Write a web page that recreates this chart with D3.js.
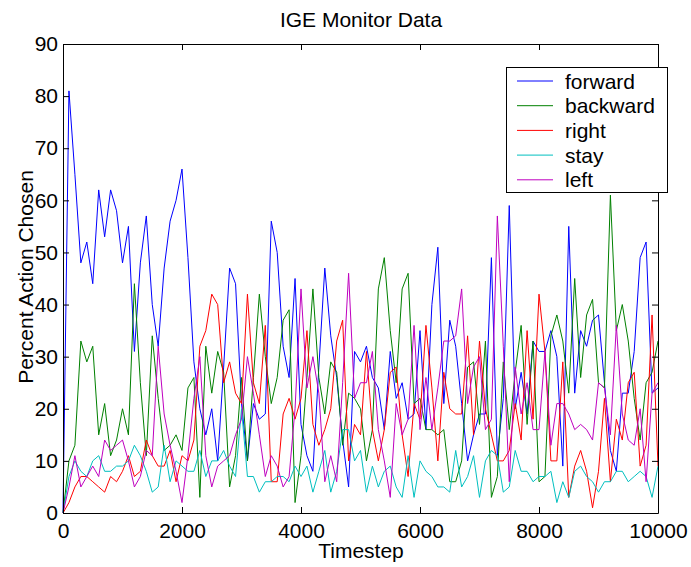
<!DOCTYPE html>
<html>
<head>
<meta charset="utf-8">
<script src="https://cdn.jsdelivr.net/npm/d3@7"></script>
<style>
  html, body { margin: 0; padding: 0; background: #fff; }
  text { font-family: "Liberation Sans", Arial, Helvetica, sans-serif; fill: #000; }
</style>
</head>
<body>
<svg id="chart" width="691" height="567"></svg>
<script>
// Timesteps 0..10000 every 100
const timesteps = d3.range(0, 10001, 100);

const forward = [
  0,81,65,48,52,44,62,53,62,58,
  48,55,31,48,57,40,32,47,56,60,
  66,49,29,20,15,20,10,28,47,44,
  21,10,21,18,19,56,50,32,26,45,
  17,11,8,28,47,34,26,14,5,31,
  29,32,26,24,16,31,22,25,18,19,
  35,16,40,51,21,37,32,21,10,15,
  19,19,49,11,22,59,20,27,19,33,
  31,31,35,30,9,55,23,35,32,37,
  38,25,12,8,23,23,31,49,52,23,
  24
];
const backward = [
  0,10,13,33,29,32,15,21,11,14,
  20,15,44,25,11,34,22,12,13,15,
  12,24,26,3,32,23,31,27,5,11,
  26,10,26,42,30,21,26,37,39,2,
  11,26,43,26,19,29,27,13,23,22,
  20,10,16,43,49,35,25,43,46,21,
  22,16,16,15,16,6,6,10,28,29,
  17,33,3,7,29,16,27,36,17,33,
  6,7,34,38,33,23,45,26,38,41,
  25,24,61,35,40,33,22,14,25,27,
  33
];
const right = [
  0,2,5,7,7,6,5,4,7,6,
  8,11,7,8,14,11,9,9,12,6,
  11,10,14,32,35,42,40,25,29,23,
  21,42,25,21,36,6,6,19,22,18,
  22,35,17,13,16,20,33,37,10,17,
  15,31,16,10,16,27,28,15,7,21,
  18,36,24,10,27,20,19,19,34,15,
  33,20,15,10,10,12,21,14,35,18,
  42,31,10,10,29,3,9,12,8,1,
  8,22,6,18,14,25,27,9,13,38,
  9
];
const stay = [
  0,7,10,8,7,10,11,8,8,9,
  9,10,13,11,8,4,5,13,6,10,
  9,8,8,12,7,10,10,12,9,7,
  20,7,7,4,6,6,7,7,6,9,
  7,9,4,8,12,4,8,16,16,10,
  12,4,9,5,8,9,5,3,11,3,
  10,8,7,5,5,4,12,5,7,11,
  3,10,12,11,4,5,12,8,8,6,
  7,7,8,2,6,3,8,9,7,6,
  4,6,6,8,8,6,7,8,7,3,
  9
];
const left = [
  0,5,11,5,7,9,7,14,12,13,
  14,10,5,7,12,11,32,19,13,8,
  2,11,22,30,11,5,9,10,11,15,
  18,30,23,15,7,11,9,5,7,20,
  43,24,30,23,6,11,6,25,46,22,
  25,25,31,16,10,3,21,15,18,36,
  16,26,16,24,33,33,34,43,21,28,
  30,16,18,57,32,6,28,19,25,16,
  16,31,13,21,21,19,16,17,16,14,
  25,24,15,36,19,14,13,20,6,23,
  25
];

const seriesNames = ["forward", "backward", "right", "stay", "left"];
const seriesValues = [forward, backward, right, stay, left];
const seriesColors = ["#0000ff", "#008000", "#ff0000", "#00bfbf", "#bf00bf"];

const xTicks = [0, 2000, 4000, 6000, 8000, 10000];
const yTicks = [0, 10, 20, 30, 40, 50, 60, 70, 80, 90];

const svg = d3.select("#chart");
const plot = { left: 63, right: 658, top: 44, bottom: 513 };
const fontSize = "21px";

const x = d3.scaleLinear().domain([0, 10000]).range([plot.left, plot.right]);
const y = d3.scaleLinear().domain([0, 90]).range([plot.bottom, plot.top]);

svg.append("rect").attr("width", 691).attr("height", 567).attr("fill", "#fff");

// Data lines, drawn in legend order
const line = d3.line().x((d, i) => x(timesteps[i])).y(d => y(d));
seriesValues.forEach((vals, k) => {
  svg.append("path")
    .datum(vals)
    .attr("fill", "none")
    .attr("stroke", seriesColors[k])
    .attr("stroke-width", 1)
    .attr("d", line);
});

// Axes box with inward ticks on all four sides
const tickLen = 6;
const bottomAxis = d3.axisBottom(x).tickValues(xTicks).tickSizeInner(-tickLen).tickSizeOuter(0).tickPadding(10).tickFormat(d3.format("d"));
const topAxis = d3.axisTop(x).tickValues(xTicks).tickSizeInner(-tickLen).tickSizeOuter(0).tickFormat("");
const leftAxis = d3.axisLeft(y).tickValues(yTicks).tickSizeInner(-tickLen).tickSizeOuter(0).tickPadding(5).tickFormat(d3.format("d"));
const rightAxis = d3.axisRight(y).tickValues(yTicks).tickSizeInner(-tickLen).tickSizeOuter(0).tickFormat("");

function styleAxis(g) {
  g.selectAll("path, line").attr("stroke", "#000").attr("stroke-width", 1);
  g.selectAll("text").style("font-size", fontSize).attr("fill", "#000");
}

svg.append("g").attr("transform", `translate(0,${plot.bottom})`).call(bottomAxis).call(styleAxis);
svg.append("g").attr("transform", `translate(0,${plot.top})`).call(topAxis).call(styleAxis);
svg.append("g").attr("transform", `translate(${plot.left},0)`).call(leftAxis).call(styleAxis);
svg.append("g").attr("transform", `translate(${plot.right},0)`).call(rightAxis).call(styleAxis);

// Title and axis labels
svg.append("text")
  .attr("x", 361).attr("y", 27)
  .attr("text-anchor", "middle").style("font-size", fontSize)
  .text("IGE Monitor Data");

svg.append("text")
  .attr("x", 361).attr("y", 558)
  .attr("text-anchor", "middle").style("font-size", fontSize)
  .text("Timestep");

svg.append("text")
  .attr("transform", `translate(33,277) rotate(-90)`)
  .attr("text-anchor", "middle").style("font-size", fontSize)
  .text("Percent Action Chosen");

// Legend
const legend = svg.append("g");
legend.append("rect")
  .attr("x", 506.5).attr("y", 67.5).attr("width", 161).attr("height", 125)
  .attr("fill", "#fff").attr("stroke", "#000").attr("stroke-width", 1);
seriesNames.forEach((name, k) => {
  const cy = 81 + k * 24.7;
  legend.append("line")
    .attr("x1", 517).attr("x2", 553).attr("y1", cy).attr("y2", cy)
    .attr("stroke", seriesColors[k]).attr("stroke-width", 1);
  legend.append("text")
    .attr("x", 565).attr("y", cy + 7.5)
    .style("font-size", fontSize)
    .text(name);
});
</script>
</body>
</html>
